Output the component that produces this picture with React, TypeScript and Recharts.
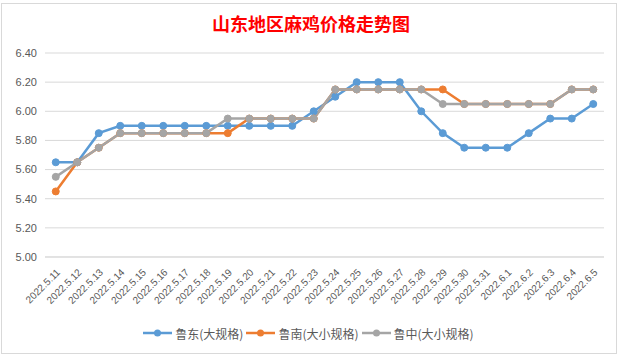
import React from 'react';
import { LineChart, Line, XAxis, YAxis, CartesianGrid, Legend } from 'recharts';

const dates = [
  '2022.5.11', '2022.5.12', '2022.5.13', '2022.5.14', '2022.5.15', '2022.5.16',
  '2022.5.17', '2022.5.18', '2022.5.19', '2022.5.20', '2022.5.21', '2022.5.22',
  '2022.5.23', '2022.5.24', '2022.5.25', '2022.5.26', '2022.5.27', '2022.5.28',
  '2022.5.29', '2022.5.30', '2022.5.31', '2022.6.1', '2022.6.2', '2022.6.3',
  '2022.6.4', '2022.6.5',
];

// 鲁东(大规格)
const ludong = [
  5.65, 5.65, 5.85, 5.9, 5.9, 5.9, 5.9, 5.9, 5.9, 5.9, 5.9, 5.9, 6.0,
  6.1, 6.2, 6.2, 6.2, 6.0, 5.85, 5.75, 5.75, 5.75, 5.85, 5.95, 5.95, 6.05,
];
// 鲁南(大小规格)
const lunan = [
  5.45, 5.65, 5.75, 5.85, 5.85, 5.85, 5.85, 5.85, 5.85, 5.95, 5.95, 5.95, 5.95,
  6.15, 6.15, 6.15, 6.15, 6.15, 6.15, 6.05, 6.05, 6.05, 6.05, 6.05, 6.15, 6.15,
];
// 鲁中(大小规格)
const luzhong = [
  5.55, 5.65, 5.75, 5.85, 5.85, 5.85, 5.85, 5.85, 5.95, 5.95, 5.95, 5.95, 5.95,
  6.15, 6.15, 6.15, 6.15, 6.15, 6.05, 6.05, 6.05, 6.05, 6.05, 6.05, 6.15, 6.15,
];

const yTicks = [5.0, 5.2, 5.4, 5.6, 5.8, 6.0, 6.2, 6.4];

const series = [
  { key: 'ludong', name: '鲁东(大规格)', color: '#5B9BD5' },
  { key: 'lunan', name: '鲁南(大小规格)', color: '#ED7D31' },
  { key: 'luzhong', name: '鲁中(大小规格)', color: '#A5A5A5' },
];

const data = dates.map((d, i) => ({
  date: d,
  ludong: ludong[i],
  lunan: lunan[i],
  luzhong: luzhong[i],
}));

const XTick = ({ x, y, payload }: any) => {
  const ax = x + 5;
  const ay = y + 8;
  return (
    <text
      x={ax}
      y={ay}
      transform={`rotate(-45, ${ax}, ${ay})`}
      textAnchor="end"
      fontSize={10}
      fill="#595959"
      fontFamily="'Liberation Sans', Arial, sans-serif"
    >
      {payload.value}
    </text>
  );
};

const LegendContent = () => (
  <div
    style={{
      display: 'flex',
      justifyContent: 'center',
      alignItems: 'center',
      height: 18,
      fontFamily: "'Noto Sans CJK SC', sans-serif",
      fontSize: 12,
      color: '#595959',
    }}
  >
    {series.map((s) => (
      <div key={s.key} style={{ display: 'flex', alignItems: 'center', marginRight: 3 }}>
        <svg width={29} height={10} style={{ marginRight: 3 }}>
          <line x1={0} y1={5} x2={29} y2={5} stroke={s.color} strokeWidth={2.5} />
          <circle cx={14.5} cy={5} r={3.5} fill={s.color} />
        </svg>
        <span>{s.name}</span>
      </div>
    ))}
  </div>
);

export default function App() {
  return (
    <div style={{ position: 'absolute', left: 0, top: 0, width: 622, height: 357, background: '#fff' }}>
      <div
        style={{
          position: 'absolute',
          left: 1,
          top: 3,
          width: 614,
          height: 349,
          border: '1px solid #D9D9D9',
        }}
      />
      <div
        style={{
          position: 'absolute',
          left: 0,
          top: 11,
          width: 622,
          textAlign: 'center',
          color: '#FF0000',
          fontWeight: 'bold',
          fontSize: 18,
          lineHeight: '24px',
          fontFamily: "'Noto Sans CJK SC', sans-serif",
        }}
      >
        山东地区麻鸡价格走势图
      </div>
      <div style={{ position: 'absolute', left: 0, top: 0 }}>
        <LineChart width={622} height={357} data={data} margin={{ top: 53, right: 18, left: 0, bottom: 15 }}>
          <CartesianGrid vertical={false} stroke="#D9D9D9" />
          <XAxis
            dataKey="date"
            interval={0}
            tick={<XTick />}
            tickLine={false}
            axisLine={{ stroke: '#D9D9D9' }}
            padding={{ left: 10.75, right: 10.75 }}
            height={67}
          />
          <YAxis
            domain={[5, 6.4]}
            ticks={yTicks}
            tickFormatter={(v: number) => v.toFixed(2)}
            width={45}
            axisLine={false}
            tickLine={false}
            tick={{ fontSize: 11, fill: '#595959', fontFamily: "'Liberation Sans', Arial, sans-serif" }}
          />
          <Legend
            verticalAlign="bottom"
            content={<LegendContent />}
            wrapperStyle={{ left: 0, width: 620 }}
          />
          {series.map((s) => (
            <Line
              key={s.key}
              type="linear"
              dataKey={s.key}
              name={s.name}
              stroke={s.color}
              strokeWidth={2.5}
              dot={{ r: 3.5, fill: s.color, stroke: s.color, strokeWidth: 1 }}
              activeDot={false}
              isAnimationActive={false}
            />
          ))}
        </LineChart>
      </div>
    </div>
  );
}
